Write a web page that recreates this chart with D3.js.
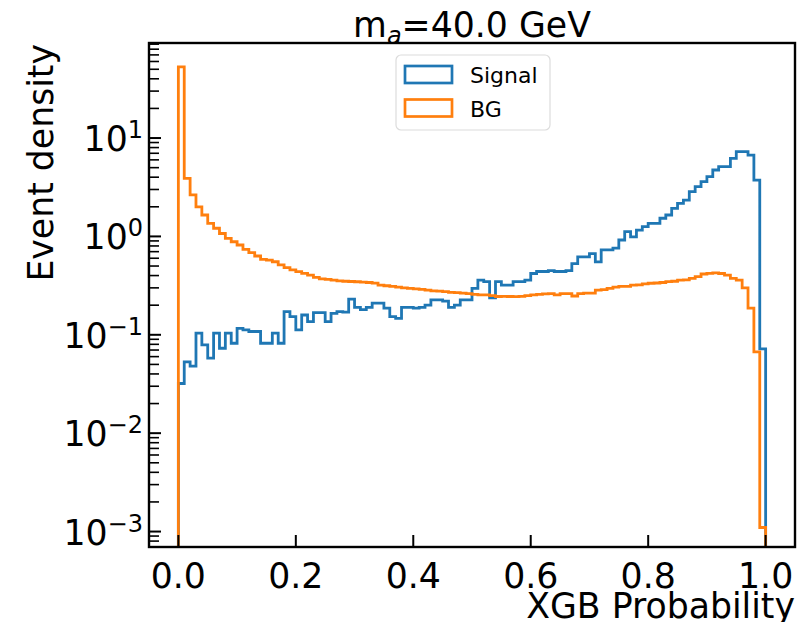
<!DOCTYPE html>
<html>
<head>
<meta charset="utf-8">
<script src="https://cdn.jsdelivr.net/npm/d3@7"></script>
<style>
body{margin:0;background:#fff}
text{font-family:"DejaVu Sans",sans-serif;fill:#000}
</style>
</head>
<body>
<svg id="chart" width="810" height="622"></svg>
<script>
// histogram: 100 bins on [0,1]
const binStart = 0, binWidth = 0.01;
const signal = [
  0.032,0.053,0.048,0.104,0.079,0.058,0.104,0.073,0.104,0.082,
  0.116,0.112,0.108,0.108,0.082,0.082,0.104,0.082,0.172,0.153,
  0.112,0.159,0.136,0.168,0.168,0.136,0.165,0.172,0.17,0.23,
  0.19,0.18,0.19,0.21,0.21,0.187,0.153,0.147,0.19,0.19,
  0.187,0.19,0.2,0.226,0.226,0.22,0.19,0.2,0.226,0.226,
  0.297,0.36,0.347,0.237,0.347,0.32,0.32,0.347,0.347,0.36,
  0.42,0.44,0.44,0.45,0.44,0.44,0.45,0.53,0.62,0.62,
  0.67,0.55,0.73,0.73,0.76,0.92,1.12,0.99,1.16,1.26,
  1.36,1.36,1.53,1.65,1.93,2.17,2.34,2.85,3.2,3.6,
  4.05,4.73,5.11,5.11,6.22,7.26,7.26,6.71,3.74,0.072
];
const bg = [
  53,3.89,2.64,2.0,1.65,1.36,1.21,1.07,0.957,0.883,
  0.818,0.74,0.683,0.632,0.585,0.575,0.553,0.513,0.481,0.456,
  0.438,0.421,0.405,0.384,0.371,0.366,0.36,0.354,0.35,0.348,
  0.346,0.343,0.34,0.335,0.32,0.315,0.31,0.305,0.3,0.297,
  0.293,0.29,0.285,0.28,0.278,0.275,0.27,0.268,0.265,0.262,
  0.258,0.255,0.254,0.25,0.245,0.246,0.245,0.244,0.246,0.25,
  0.254,0.258,0.26,0.262,0.255,0.262,0.262,0.248,0.262,0.265,
  0.265,0.285,0.288,0.297,0.305,0.31,0.31,0.32,0.322,0.33,
  0.334,0.336,0.34,0.347,0.35,0.36,0.362,0.375,0.39,0.415,
  0.422,0.425,0.42,0.405,0.375,0.36,0.3,0.187,0.067,0.0011
];
const xTicks = [0, 0.2, 0.4, 0.6, 0.8, 1.0];
const yDecades = [-3, -2, -1, 0, 1];
const seriesNames = ["Signal", "BG"];
const colors = ["#1f77b4", "#ff7f0e"];

const svg = d3.select("#chart");
const pLeft = 149, pRight = 795, pTop = 43, pBottom = 547;
const fs = 34.7, fsSup = 24;

const x = d3.scaleLinear().domain([-0.05, 1.05]).range([pLeft, pRight]);
const y = d3.scaleLog().domain([Math.pow(10,-3.157), Math.pow(10,1.966)]).range([pBottom, pTop]);

svg.append("defs").append("clipPath").attr("id","clip")
  .append("rect").attr("x",pLeft).attr("y",pTop).attr("width",pRight-pLeft).attr("height",pBottom-pTop);

// step outline like matplotlib histtype='step'
function stepPath(vals){
  const pts = [];
  const floor = pBottom + 10;
  pts.push([x(binStart), floor]);
  vals.forEach((v,i)=>{
    pts.push([x(binStart+i*binWidth), y(v)]);
    pts.push([x(binStart+(i+1)*binWidth), y(v)]);
  });
  pts.push([x(binStart+vals.length*binWidth), floor]);
  return d3.line()(pts);
}

const g = svg.append("g").attr("clip-path","url(#clip)");
[signal, bg].forEach((s,i)=>{
  g.append("path").attr("d", stepPath(s))
    .attr("fill","none").attr("stroke",colors[i]).attr("stroke-width",2.8)
    .attr("stroke-linejoin","miter");
});

// x ticks (inward)
xTicks.forEach(t=>{
  svg.append("line").attr("x1",x(t)).attr("x2",x(t)).attr("y1",pBottom).attr("y2",pBottom-12)
    .attr("stroke","#000").attr("stroke-width",2);
  svg.append("text").attr("x",x(t)).attr("y",588).attr("text-anchor","middle")
    .attr("font-size",fs).text(t.toFixed(1));
});

// y ticks, major + minor (inward)
const [ymin, ymax] = y.domain();
for (let k=-4;k<=2;k++){
  for (let m=1;m<=9;m++){
    const v = m*Math.pow(10,k);
    if (v < ymin || v > ymax) continue;
    svg.append("line").attr("x1",pLeft).attr("x2",pLeft+(m===1?12:10))
      .attr("y1",y(v)).attr("y2",y(v))
      .attr("stroke","#000").attr("stroke-width",m===1?2:1.6);
  }
}
yDecades.forEach(k=>{
  const t = svg.append("text").attr("x",143).attr("y",y(Math.pow(10,k))+13)
    .attr("text-anchor","end").attr("font-size",fs);
  t.append("tspan").text("10");
  t.append("tspan").attr("dy",-13).attr("font-size",fsSup).text(k<0 ? "\u2212"+(-k) : String(k));
});

// frame
svg.append("rect").attr("x",pLeft).attr("y",pTop).attr("width",pRight-pLeft).attr("height",pBottom-pTop)
  .attr("fill","none").attr("stroke","#000").attr("stroke-width",2.4);

// labels
svg.append("text").attr("x",pRight).attr("y",618).attr("text-anchor","end")
  .attr("font-size",fs).text("XGB Probability");
svg.append("text").attr("transform","translate(53,44) rotate(-90)").attr("text-anchor","end")
  .attr("font-size",fs).text("Event density");

const title = svg.append("text").attr("x",(pLeft+pRight)/2).attr("y",37).attr("text-anchor","middle")
  .attr("font-size",fs);
title.append("tspan").text("m");
title.append("tspan").attr("dy",7).attr("font-size",fsSup).attr("font-style","italic").text("a");
title.append("tspan").attr("dy",-7).text("=40.0 GeV");

// legend
const lg = svg.append("g");
lg.append("rect").attr("x",396).attr("y",55).attr("width",154).attr("height",75).attr("rx",5)
  .attr("fill","#fff").attr("fill-opacity",0.8).attr("stroke","#dcdcdc").attr("stroke-width",1.2);
seriesNames.forEach((n,i)=>{
  const yy = 66 + i*33.5;
  lg.append("rect").attr("x",405).attr("y",yy).attr("width",47).attr("height",17)
    .attr("fill","none").attr("stroke",colors[i]).attr("stroke-width",2.7);
  lg.append("text").attr("x",470).attr("y",yy+17).attr("font-size",22).text(n);
});
</script>
</body>
</html>
